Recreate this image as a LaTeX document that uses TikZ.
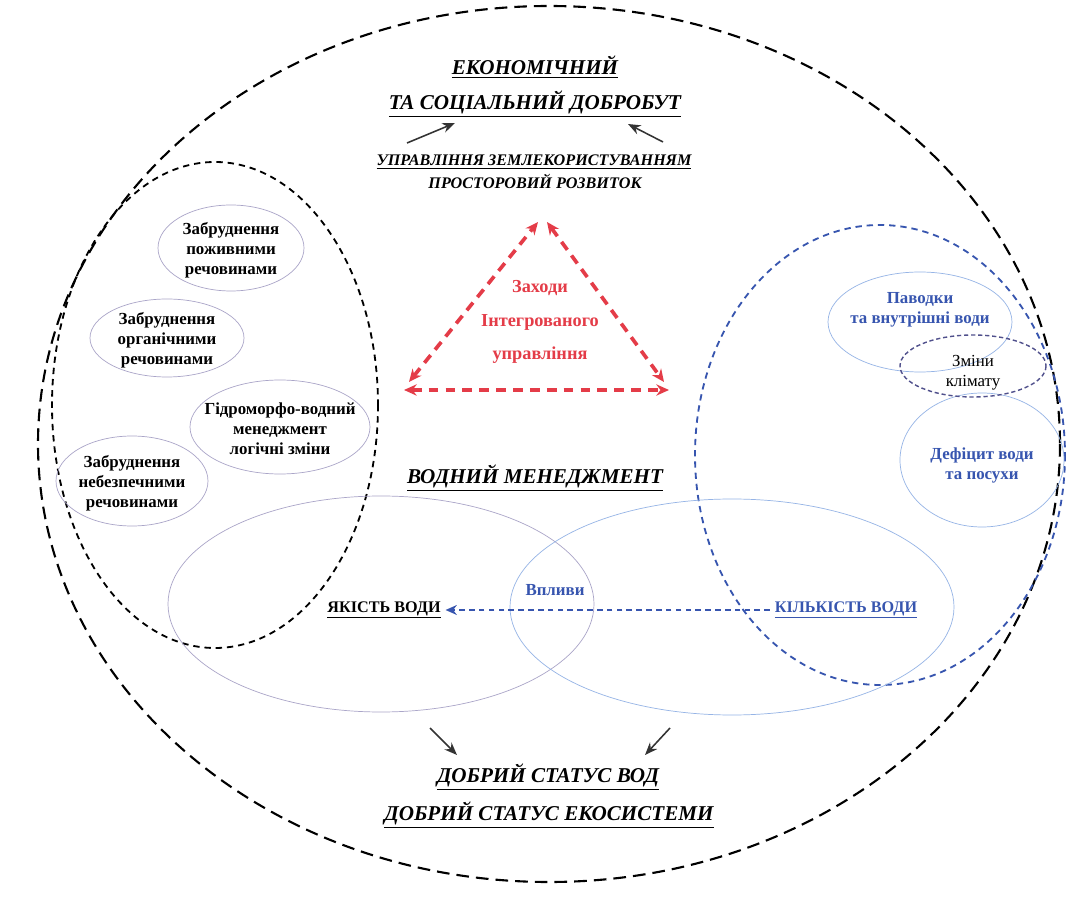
\documentclass[tikz,border=0pt]{standalone}
\usepackage{fontspec}
\setmainfont{Liberation Serif}
\usetikzlibrary{arrows.meta, positioning}
\definecolor{wmblue}{RGB}{55,85,175}
\definecolor{wmlightblue}{RGB}{150,180,230}
\definecolor{wmgray}{RGB}{170,165,200}
\definecolor{wmred}{RGB}{228,60,72}
\definecolor{wmpurple}{RGB}{80,80,140}
\tikzset{
    headline/.style={font=\fontsize{15}{18}\selectfont\bfseries\itshape},
    subline/.style={font=\fontsize{11.5}{14}\selectfont\bfseries\itshape},
    issue/.style={align=center, font=\fontsize{12}{14.2}\selectfont\bfseries},
    zonegray/.style={draw=wmgray, line width=0.5pt},
    zoneblue/.style={draw=wmlightblue, line width=0.5pt},
    flow/.style={-{Stealth[length=9pt,width=7pt]}, line width=1.1pt, black!80},
    redway/.style={{Stealth[length=9pt,width=8pt]}-{Stealth[length=9pt,width=8pt]}, wmred, line width=2.6pt, dash pattern=on 7pt off 5pt},
}

\begin{document}
\begin{tikzpicture}[x=0.025cm, y=-0.025cm]
    \useasboundingbox[fill=white] (0,0) rectangle (1067,898);
    % big zones
    \draw[line width=1.5pt, dash pattern=on 9pt off 5pt] (549,444) ellipse [x radius=511, y radius=438];
    \draw[line width=1.3pt, dash pattern=on 4.5pt off 3.5pt] (215,405) ellipse [x radius=163, y radius=243];
    \draw[wmblue, line width=1.3pt, dash pattern=on 4.5pt off 3.5pt] (880,455) ellipse [x radius=185, y radius=230];
    \draw[zonegray] (381,604) ellipse [x radius=213, y radius=108];
    \draw[zoneblue] (732,607) ellipse [x radius=222, y radius=108];

    % small zones
    \draw[zonegray] (231,248) ellipse [x radius=73, y radius=43];
    \draw[zonegray] (167,338) ellipse [x radius=77, y radius=39];
    \draw[zonegray] (280,427) ellipse [x radius=90, y radius=47];
    \draw[zonegray] (132,481) ellipse [x radius=76, y radius=45];
    \draw[zoneblue] (920,322) ellipse [x radius=92, y radius=50];
    \draw[zoneblue] (982,460) ellipse [x radius=82, y radius=67];
    \draw[wmpurple, line width=1pt, dash pattern=on 3pt off 2pt] (973,366) ellipse [x radius=73, y radius=31];

    % titles
    \node[headline] (econ) at (535,67) {\underline{ЕКОНОМІЧНИЙ}};
    \node[headline] (social) at (535,104) {\underline{ТА СОЦІАЛЬНИЙ ДОБРОБУТ}};
    \node[subline] (land) at (534,162) {\underline{УПРАВЛІННЯ ЗЕМЛЕКОРИСТУВАННЯМ}};
    \node[subline] (spatial) at (535,181) {ПРОСТОРОВИЙ РОЗВИТОК};
    \node[headline] (watman) at (535,478) {\underline{ВОДНИЙ МЕНЕДЖМЕНТ}};
    \node[headline] (goodwat) at (548,777) {\underline{ДОБРИЙ СТАТУС ВОД}};
    \node[headline] (goodeco) at (549,815) {\underline{ДОБРИЙ СТАТУС ЕКОСИСТЕМИ}};

    % zone texts
    \node[issue] (nutr) at (231,250) {Забруднення\\поживними\\речовинами};
    \node[issue] (organ) at (167,340) {Забруднення\\органічними\\речовинами};
    \node[issue] (hydro) at (280,429) {Гідроморфо-водний\\менеджмент\\логічні зміни};
    \node[issue] (hazard) at (132,483) {Забруднення\\небезпечними\\речовинами};
    \node[issue, wmblue] (flood) at (920,310) {Паводки\\та внутрішні води};
    \node[align=center, font=\fontsize{12}{14.2}\selectfont] (climate) at (973,373) {Зміни\\клімату};
    \node[issue, wmblue] (drought) at (982,465) {Дефіцит води\\та посухи};
    \node[align=center, wmred, font=\fontsize{13}{24}\selectfont\bfseries] (measures) at (540,322) {Заходи\\Інтегрованого\\управління};

    \node[font=\fontsize{11.5}{14}\selectfont\bfseries] (quality) at (384,610) {\underline{ЯКІСТЬ ВОДИ}};
    \node[font=\fontsize{11.5}{14}\selectfont\bfseries, wmblue] (quantity) at (846,610) {\underline{КІЛЬКІСТЬ ВОДИ}};
    \node[font=\fontsize{12}{14}\selectfont\bfseries, wmblue] (impact) at (555,590) {Впливи};

    % triangle
    \coordinate (apexL) at (538,222);
    \coordinate (apexR) at (547,222);
    \coordinate (cornL) at (409,382);
    \coordinate (baseL) at (404,390);
    \coordinate (cornR) at (664,382);
    \coordinate (baseR) at (669,390);
    \draw[redway] (cornL) -- (apexL);
    \draw[redway] (apexR) -- (cornR);
    \draw[redway] (baseL) -- (baseR);

    % flows
    \coordinate (landL) at (407,143);
    \coordinate (landR) at (663,142);
    \coordinate (socL) at (455,123);
    \coordinate (socR) at (628,124);
    \draw[flow] (landL) -- (socL);
    \draw[flow] (landR) -- (socR);
    \coordinate (qualS) at (430,728);
    \coordinate (quanS) at (670,728);
    \coordinate (wodL) at (457,755);
    \coordinate (wodR) at (645,755);
    \draw[flow] (qualS) -- (wodL);
    \draw[flow] (quanS) -- (wodR);
    \draw[wmblue, line width=1.5pt, dash pattern=on 4pt off 3pt, -{Stealth[length=8pt,width=7pt]}] (quantity) -- (quality);
\end{tikzpicture}
\end{document}
